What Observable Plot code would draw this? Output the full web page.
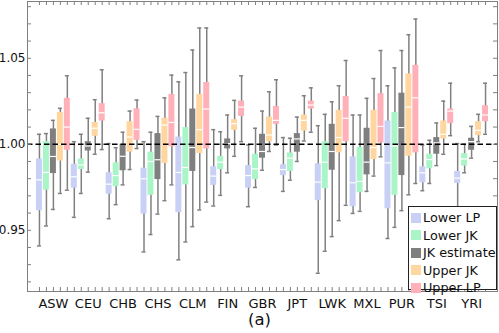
<!DOCTYPE html>
<html>
<head>
<meta charset="utf-8">
<script src="https://cdn.jsdelivr.net/npm/d3@7"></script>
<script src="https://cdn.jsdelivr.net/npm/@observablehq/plot@0.6"></script>
<style>
  html, body { margin: 0; padding: 0; background: white; }
  #wrap { position: relative; width: 499px; height: 333px; font-family: "DejaVu Sans", sans-serif; }
  #legend { position: absolute; left: 408px; top: 206px; width: 89px; height: 84px; box-sizing: border-box;
    border: 1px solid #222; background: white; padding: 2px 0 0 2px; }
  .item { display: flex; align-items: center; height: 17.5px; font-size: 12.8px; color: #111; white-space: nowrap; }
  .sw { width: 10px; height: 10px; margin-right: 2px; flex: none; }
</style>
</head>
<body>
<div id="wrap"></div>
<script>
const populations = ["ASW","CEU","CHB","CHS","CLM","FIN","GBR","JPT","LWK","MXL","PUR","TSI","YRI"];
const seriesNames = ["Lower LP","Lower JK","JK estimate","Upper JK","Upper LP"];
const seriesColors = ["#c8d0f5","#aaf5c8","#7f7f7f","#ffd6a0","#ffb0b8"];
const yTickLabels = [0.95, 1.00, 1.05];

// [whisker low, q1, median, q3, whisker high] per population
const lowerLP = [
  [0.9409,0.9614,0.9793,0.9915,1.0058],
  [0.9575,0.9745,0.9811,0.9884,1.0015],
  [0.9567,0.9710,0.9768,0.9834,1.0004],
  [0.9374,0.9594,0.9799,0.9861,1.0015],
  [0.9328,0.9602,0.9836,1.0042,1.0363],
  [0.9641,0.9761,0.9815,0.9869,1.0085],
  [0.9637,0.9745,0.9818,0.9876,0.9996],
  [0.9726,0.9818,0.9853,0.9880,1.0039],
  [0.9250,0.9672,0.9780,0.9886,1.0108],
  [0.9598,0.9637,0.9776,0.9927,1.0170],
  [0.9452,0.9625,0.9892,1.0135,1.0340],
  [0.9730,0.9776,0.9834,0.9869,0.9996],
  [0.9550,0.9772,0.9803,0.9842,1.0004]
];
const lowerJK = [
  [0.9525,0.9733,0.9836,1.0015,1.0062],
  [0.9714,0.9853,0.9880,0.9915,1.0058],
  [0.9649,0.9753,0.9818,0.9892,0.9980],
  [0.9475,0.9703,0.9900,0.9954,1.0070],
  [0.9432,0.9764,0.9865,1.0097,1.0417],
  [0.9703,0.9853,0.9896,0.9930,1.0073],
  [0.9749,0.9795,0.9857,0.9942,1.0093],
  [0.9791,0.9842,0.9919,0.9950,1.0035],
  [0.9378,0.9741,0.9896,1.0015,1.0174],
  [0.9610,0.9718,0.9784,0.9981,1.0170],
  [0.9517,0.9703,0.9990,1.0185,1.0444],
  [0.9772,0.9857,0.9911,0.9942,1.0023],
  [0.9834,0.9873,0.9915,0.9946,1.0000]
];
const jkEstimate = [
  [0.9621,0.9830,0.9929,1.0089,1.0139],
  [0.9838,0.9961,0.9990,1.0015,1.0151],
  [0.9764,0.9846,0.9930,1.0000,1.0070],
  [0.9594,0.9795,0.9910,1.0062,1.0162],
  [0.9521,0.9842,0.9981,1.0205,1.0548],
  [0.9834,0.9973,1.0004,1.0031,1.0170],
  [0.9849,0.9919,0.9958,1.0058,1.0193],
  [0.9900,0.9954,1.0031,1.0062,1.0158],
  [0.9463,0.9849,0.9958,1.0116,1.0247],
  [0.9726,0.9822,0.9896,1.0093,1.0267],
  [0.9614,0.9818,1.0097,1.0297,1.0545],
  [0.9876,0.9942,1.0008,1.0039,1.0124],
  [0.9919,0.9965,1.0015,1.0035,1.0104]
];
const upperJK = [
  [0.9714,0.9903,1.0000,1.0185,1.0209],
  [0.9942,1.0046,1.0093,1.0127,1.0259],
  [0.9853,0.9954,1.0042,1.0131,1.0193],
  [0.9672,0.9888,1.0112,1.0151,1.0270],
  [0.9618,0.9946,1.0085,1.0290,1.0676],
  [0.9930,1.0081,1.0120,1.0143,1.0255],
  [0.9958,1.0015,1.0054,1.0158,1.0305],
  [1.0019,1.0077,1.0139,1.0170,1.0282],
  [0.9556,0.9950,1.0039,1.0197,1.0340],
  [0.9815,0.9911,0.9981,1.0197,1.0382],
  [0.9706,0.9930,1.0216,1.0409,1.0637],
  [0.9942,1.0031,1.0058,1.0135,1.0251],
  [1.0015,1.0050,1.0081,1.0131,1.0174]
];
const upperLP = [
  [0.9733,0.9965,1.0100,1.0267,1.0398],
  [0.9969,1.0135,1.0183,1.0236,1.0433],
  [0.9975,1.0023,1.0087,1.0206,1.0257],
  [0.9764,0.9985,1.0127,1.0290,1.0402],
  [0.9664,0.9973,1.0205,1.0359,1.0676],
  [1.0015,1.0162,1.0216,1.0251,1.0398],
  [0.9996,1.0116,1.0139,1.0220,1.0375],
  [1.0070,1.0205,1.0228,1.0251,1.0328],
  [0.9645,1.0015,1.0151,1.0278,1.0487],
  [0.9927,1.0008,1.0104,1.0294,1.0545],
  [0.9772,0.9950,1.0270,1.0459,1.0728],
  [1.0050,1.0120,1.0193,1.0205,1.0355],
  [1.0058,1.0131,1.0170,1.0224,1.0355]
];

const seriesData = [lowerLP, lowerJK, jkEstimate, upperJK, upperLP];
const rows = [];
populations.forEach((p, i) => {
  seriesNames.forEach((s, j) => {
    const [lo, q1, med, q3, hi] = seriesData[j][i];
    rows.push({key: p + "|" + s, pop: p, series: s, lo, q1, med, q3, hi});
  });
});
const allKeys = rows.map(d => d.key);
const labelKeys = populations.map(p => p + "|JK estimate");
const yMinor = d3.range(92, 109).map(d => d / 100);

const W = 499, H = 333, mL = 27, mR = 2, mT = 1, mB = 42;
const fw = W - mL - mR, fh = H - mT - mB;
const gray = "#808080";

const chart = Plot.plot({
  width: W, height: H,
  marginLeft: mL, marginRight: mR, marginTop: mT, marginBottom: mB,
  style: {fontFamily: "DejaVu Sans, sans-serif", background: "white"},
  x: {domain: allKeys, paddingInner: 0.14, paddingOuter: 1.285, axis: null},
  y: {domain: [0.9144, 1.083], axis: null},
  color: {domain: seriesNames, range: seriesColors},
  marks: [
    Plot.ruleX(rows, {x: "key", y1: "lo", y2: "hi", stroke: gray, strokeWidth: 1.5}),
    Plot.tickY(rows, {x: "key", y: "lo", stroke: gray, strokeWidth: 1.5, insetLeft: 1, insetRight: 1}),
    Plot.tickY(rows, {x: "key", y: "hi", stroke: gray, strokeWidth: 1.5, insetLeft: 1, insetRight: 1}),
    Plot.barY(rows, {x: "key", y1: "q1", y2: "q3", fill: "series"}),
    Plot.tickY(rows, {x: "key", y: "med", stroke: "white", strokeWidth: 1.2}),
    Plot.ruleY([1], {stroke: "black", strokeWidth: 1.7, strokeDasharray: "5.5,3"}),
    // inward minor ticks
    Plot.tickX(allKeys, {x: d => d, insetTop: fh - 4, stroke: gray}),
    Plot.tickX(allKeys, {x: d => d, insetBottom: fh - 4, stroke: gray}),
    Plot.tickY(yMinor, {y: d => d, insetRight: fw - 4, stroke: gray}),
    Plot.tickY(yMinor, {y: d => d, insetLeft: fw - 4, stroke: gray}),
    Plot.frame({stroke: gray}),
    Plot.axisY({ticks: yTickLabels, tickFormat: d3.format(".2f"), tickSize: 0, tickPadding: 2, fontSize: 12, fill: "#111", label: null}),
    Plot.axisX({ticks: labelKeys, tickFormat: d => d.split("|")[0], tickSize: 0, tickPadding: 7, fontSize: 13, fill: "#111", label: null}),
    Plot.text(["(a)"], {frameAnchor: "bottom", dy: 33, dx: -3, fontSize: 16.5, fill: "#111"})
  ]
});

const wrap = document.getElementById("wrap");
wrap.appendChild(chart);

const legend = document.createElement("div");
legend.id = "legend";
seriesNames.forEach((s, i) => {
  const item = document.createElement("div");
  item.className = "item";
  const sw = document.createElement("span");
  sw.className = "sw";
  sw.style.background = seriesColors[i];
  const t = document.createElement("span");
  t.textContent = s;
  item.appendChild(sw);
  item.appendChild(t);
  legend.appendChild(item);
});
wrap.appendChild(legend);
</script>
</body>
</html>
